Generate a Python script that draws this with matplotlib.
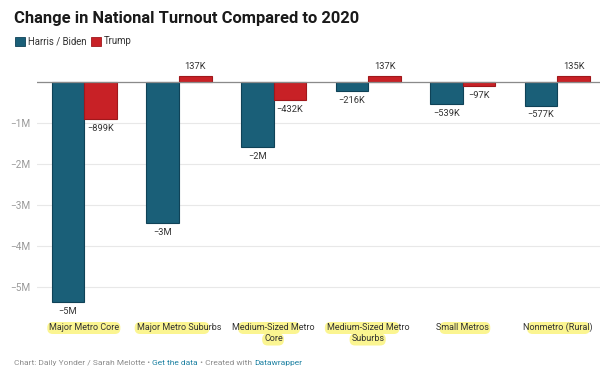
import matplotlib
matplotlib.use("Agg")
import matplotlib.pyplot as plt
from matplotlib.patches import FancyBboxPatch, Rectangle
from matplotlib.font_manager import FontProperties
from matplotlib.transforms import IdentityTransform
import numpy as np

categories = ["Major Metro Core", "Major Metro Suburbs", "Medium-Sized Metro\nCore",
              "Medium-Sized Metro\nSuburbs", "Small Metros", "Nonmetro (Rural)"]
harris = [-5.37e6, -3.44e6, -1.58e6, -0.216e6, -0.539e6, -0.577e6]
trump = [-0.899e6, 0.137e6, -0.432e6, 0.137e6, -0.097e6, 0.135e6]
harris_labels = ["\u22125M", "\u22123M", "\u22122M", "\u2212216K", "\u2212539K", "\u2212577K"]
trump_labels = ["\u2212899K", "137K", "\u2212432K", "137K", "\u221297K", "135K"]
yticks = [-5e6, -4e6, -3e6, -2e6, -1e6, 0]
ytick_labels = ["\u22125M", "\u22124M", "\u22123M", "\u22122M", "\u22121M", ""]
# highlighter marks: (category, line, first char, end char)
highlights = [(0, 0, 0, 16), (1, 0, 0, 16), (2, 0, 1, 14), (2, 1, 0, 4),
              (3, 0, 0, 15), (3, 1, 0, 7), (4, 0, 1, 12), (5, 0, 1, 15)]

BLUE = "#1a5f78"
BLUE_EDGE = "#0f4257"
RED = "#c82126"
RED_EDGE = "#a0181c"
TXT = "#333333"

plt.rcParams["font.family"] = ["Roboto", "DejaVu Sans"]

W, H = 600, 382
fig = plt.figure(figsize=(6, 3.82), dpi=100)
r = fig.canvas.get_renderer()

def px(xp, yp):
    # pixel from top-left -> figure fraction
    return xp / W, 1 - yp / H

# axes placed in pixel units
ax_l, ax_r, ax_t, ax_b = 37, 600, 68, 310
ax = fig.add_axes([ax_l / W, 1 - ax_b / H, (ax_r - ax_l) / W, (ax_b - ax_t) / H])
ax.set_zorder(2)
ax.patch.set_alpha(0)

x = np.arange(len(categories))
bw = 0.345
ax.bar(x - bw / 2, harris, bw, color=BLUE, edgecolor=BLUE_EDGE, linewidth=0.8, zorder=3)
ax.bar(x + bw / 2, trump, bw, color=RED, edgecolor=RED_EDGE, linewidth=0.8, zorder=3)

for off, vals, labs in [(-bw / 2, harris, harris_labels), (bw / 2, trump, trump_labels)]:
    for xi, v, lab in zip(x, vals, labs):
        ax.annotate(lab, (xi + off, v), xytext=(0, -3.5 if v < 0 else 4), textcoords="offset points",
                    ha="center", va="top" if v < 0 else "bottom", fontsize=6.7, color=TXT,
                    annotation_clip=False)

ax.set_xlim(-0.5, 5.45)
ax.set_ylim(-5.56e6, 0.34e6)
ax.set_yticks(yticks)
ax.set_yticklabels(ytick_labels)
ax.grid(axis="y", color="#e8e8e8", linewidth=0.8, zorder=0)
ax.axhline(0, color="#8a8a8a", linewidth=0.9, zorder=4)
for s in ax.spines.values():
    s.set_visible(False)
ax.tick_params(axis="y", length=0, pad=5, labelsize=7.2, labelcolor="#9a9a9a")
ax.set_xticks([])

# category labels, one text per line so the highlighter can follow them
cat_fs = 6.5
fp = FontProperties(family=["Roboto", "DejaVu Sans"], size=cat_fs)
line_y = [327, 338.5]
for i, cat in enumerate(categories):
    for j, line in enumerate(cat.split("\n")):
        ax.text(x[i], (ax_b - line_y[j]) / (ax_b - ax_t), line, transform=ax.get_xaxis_transform(),
                ha="center", va="center", fontsize=cat_fs, color=TXT, clip_on=False)

def text_w(s):
    return r.get_text_width_height_descent(s, fp, ismath=False)[0]

for ci, li, a, b in highlights:
    line = categories[ci].split("\n")[li]
    cx = ax.transData.transform((x[ci], 0))[0]
    x0 = cx - text_w(line) / 2
    hs = x0 + (text_w(line[:a]) if a else 0) - 2
    he = x0 + text_w(line[:b]) + 1
    yc = H - (line_y[li] + 1)
    fig.patches.append(FancyBboxPatch((hs, yc - 6), he - hs, 12,
                                      boxstyle="round,pad=0,rounding_size=5.5",
                                      transform=IdentityTransform(), facecolor="#fbf591",
                                      edgecolor="none", zorder=0))

fig.text(*px(14, 18), "Change in National Turnout Compared to 2020",
         fontsize=11.9, fontweight="bold", color="#1a1a1a", va="center")

# legend
fig.patches.append(Rectangle(px(15, 46), 10 / W, 9 / H, transform=fig.transFigure,
                             facecolor=BLUE, edgecolor=BLUE_EDGE, linewidth=0.6))
fig.text(*px(28, 41.5), "Harris / Biden", fontsize=6.9, color=TXT, va="center")
fig.patches.append(Rectangle(px(91, 46), 10 / W, 9 / H, transform=fig.transFigure,
                             facecolor=RED, edgecolor=RED_EDGE, linewidth=0.6))
fig.text(*px(103.5, 41.5), "Trump", fontsize=6.9, color=TXT, va="center")

# footer
footer = [("Chart: Daily Yonder / Sarah Melotte \u2022 ", "#8c8c8c"), ("Get the data", "#1d81a2"),
          (" \u2022 Created with ", "#8c8c8c"), ("Datawrapper", "#1d81a2")]
fx = 14
for txt, col in footer:
    t = fig.text(fx / W, 1 - 363 / H, txt, fontsize=6.05, color=col, va="center")
    fx += t.get_window_extent(renderer=r).width

fig.savefig("out.png", dpi=100)
